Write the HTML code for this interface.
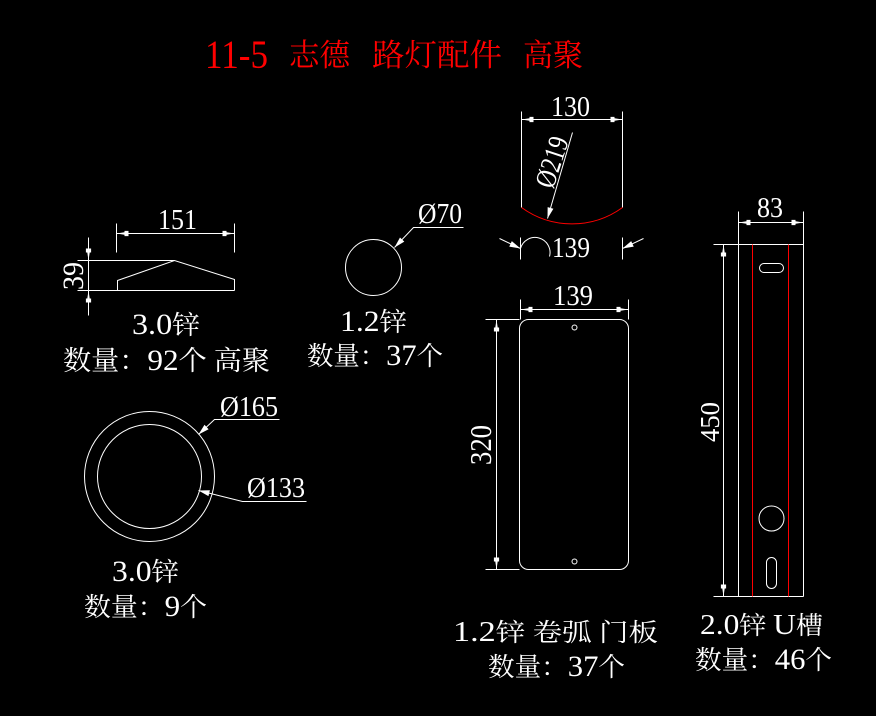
<!DOCTYPE html>
<html>
<head>
<meta charset="utf-8">
<style>
  html, body { margin:0; padding:0; background:#000; }
  svg { display:block; }
  text { font-family: "Liberation Serif", "Noto Serif CJK SC", serif; fill:#fff; }
  .t { fill:#ff0000; }
</style>
</head>
<body>
<svg width="876" height="716" viewBox="0 0 876 716" xmlns="http://www.w3.org/2000/svg">
  <rect x="0" y="0" width="876" height="716" fill="#000"/>
  <defs>
    <polygon id="ar" points="0,0 8,-1.2 8,-2.6 12,-2.6 12,2.6 8,2.6 8,1.2" fill="#fff"/>
    <polygon id="ld" points="0,0 11,-3 11,3" fill="#fff"/>
  </defs>

  <!-- Title -->
  <text class="t" x="205" y="68" font-size="40" textLength="63" lengthAdjust="spacingAndGlyphs">11-5</text>
  <text class="t" x="289" y="66" font-size="31" textLength="61" lengthAdjust="spacingAndGlyphs">志德</text>
  <text class="t" x="372" y="66" font-size="31" textLength="130" lengthAdjust="spacingAndGlyphs">路灯配件</text>
  <text class="t" x="523" y="66" font-size="31" textLength="60" lengthAdjust="spacingAndGlyphs">高聚</text>

  <g transform="translate(0.5,0.5)" stroke="#fff" stroke-width="1" fill="none">
    <!-- Part 1: triangle piece -->
    <line x1="116" y1="223" x2="116" y2="252"/>
    <line x1="234" y1="223" x2="234" y2="252"/>
    <line x1="116" y1="233" x2="234" y2="233"/>
    <line x1="77" y1="260" x2="174" y2="260"/>
    <line x1="77" y1="290" x2="234" y2="290"/>
    <polyline points="117,290 117,280 174,260 234,279 234,290"/>
    <line x1="88" y1="237" x2="88" y2="315"/>

    <!-- Part 2: small circle -->
    <circle cx="373" cy="267" r="28"/>
    <polyline points="394,247 413,227 463,227"/>

    <!-- Part 3: arc piece -->
    <line x1="521" y1="111" x2="521" y2="207"/>
    <line x1="622" y1="111" x2="622" y2="207"/>
    <line x1="521" y1="119" x2="622" y2="119"/>
    <path d="M521,207 A86,86 0 0 0 622,207" stroke="#ff0000"/>
    <line x1="572" y1="132" x2="547" y2="218"/>
    <line x1="520" y1="237" x2="520" y2="259"/>
    <line x1="622" y1="237" x2="622" y2="259"/>
    <line x1="499" y1="238" x2="520" y2="248"/>
    <line x1="643" y1="238" x2="622" y2="248"/>
    <path d="M520,248 A15,15 0 0 1 549,256"/>

    <!-- Part 4: door panel -->
    <line x1="520" y1="299" x2="520" y2="319"/>
    <line x1="628" y1="299" x2="628" y2="319"/>
    <line x1="520" y1="309" x2="628" y2="309"/>
    <rect x="519" y="319" width="109" height="250" rx="9" ry="9"/>
    <circle cx="574" cy="327" r="2.5"/>
    <circle cx="574" cy="561" r="2.5"/>
    <line x1="485" y1="319" x2="519" y2="319"/>
    <line x1="485" y1="569" x2="519" y2="569"/>
    <line x1="496" y1="319" x2="496" y2="569"/>

    <!-- Part 5: U channel -->
    <line x1="713" y1="244" x2="803" y2="244"/>
    <line x1="713" y1="596" x2="803" y2="596"/>
    <line x1="738" y1="211" x2="738" y2="596"/>
    <line x1="803" y1="211" x2="803" y2="596"/>
    <line x1="738" y1="222" x2="803" y2="222"/>
    <line x1="752" y1="244" x2="752" y2="596" stroke="#ff0000"/>
    <line x1="788" y1="244" x2="788" y2="596" stroke="#ff0000"/>
    <line x1="723" y1="244" x2="723" y2="596"/>
    <rect x="759" y="263" width="24" height="9" rx="4.5" ry="4.5"/>
    <circle cx="771" cy="518" r="12.5"/>
    <rect x="766" y="557" width="10" height="31" rx="5" ry="5"/>

    <!-- Part 6: ring -->
    <circle cx="149" cy="476" r="65"/>
    <circle cx="149" cy="476" r="52"/>
    <polyline points="198,434 214,419 279,419"/>
    <polyline points="198,490 242,501 306,501"/>
  </g>

  <!-- Arrowheads -->
  <g transform="translate(0.5,0.5)">
    <use href="#ar" transform="translate(116,233)"/>
    <use href="#ar" transform="translate(234,233) rotate(180)"/>
    <use href="#ar" transform="translate(88,260) rotate(-90)"/>
    <use href="#ar" transform="translate(88,290) rotate(90)"/>
    <use href="#ld" transform="translate(394,247) rotate(-46)"/>
    <use href="#ar" transform="translate(521,119)"/>
    <use href="#ar" transform="translate(622,119) rotate(180)"/>
    <use href="#ld" transform="translate(547,218) rotate(-74)"/>
    <use href="#ld" transform="translate(520,248) rotate(205)"/>
    <use href="#ld" transform="translate(622,248) rotate(-25)"/>
    <use href="#ar" transform="translate(520,309)"/>
    <use href="#ar" transform="translate(628,309) rotate(180)"/>
    <use href="#ar" transform="translate(496,319) rotate(90)"/>
    <use href="#ar" transform="translate(496,569) rotate(-90)"/>
    <use href="#ar" transform="translate(738,222)"/>
    <use href="#ar" transform="translate(803,222) rotate(180)"/>
    <use href="#ar" transform="translate(723,244) rotate(90)"/>
    <use href="#ar" transform="translate(723,596) rotate(-90)"/>
    <use href="#ld" transform="translate(198,434) rotate(-43)"/>
    <use href="#ld" transform="translate(198,490) rotate(14)"/>
  </g>

  <!-- Dimension texts -->
  <text x="158" y="229" font-size="29" textLength="39" lengthAdjust="spacingAndGlyphs">151</text>
  <text transform="translate(83,276) rotate(-90)" text-anchor="middle" font-size="30" textLength="28" lengthAdjust="spacingAndGlyphs">39</text>
  <text x="418" y="223" font-size="28" textLength="44" lengthAdjust="spacingAndGlyphs">Ø70</text>
  <text x="551" y="116" font-size="28" textLength="39" lengthAdjust="spacingAndGlyphs">130</text>
  <text transform="translate(561,165) rotate(-72)" text-anchor="middle" font-size="29" textLength="52" lengthAdjust="spacingAndGlyphs">Ø219</text>
  <text x="552" y="257" font-size="29" textLength="38" lengthAdjust="spacingAndGlyphs">139</text>
  <text x="553" y="305" font-size="29" textLength="40" lengthAdjust="spacingAndGlyphs">139</text>
  <text transform="translate(491,445) rotate(-90)" text-anchor="middle" font-size="31" textLength="40" lengthAdjust="spacingAndGlyphs">320</text>
  <text x="757" y="217" font-size="29" textLength="26" lengthAdjust="spacingAndGlyphs">83</text>
  <text transform="translate(719,422) rotate(-90)" text-anchor="middle" font-size="27" textLength="40" lengthAdjust="spacingAndGlyphs">450</text>
  <text x="220" y="416" font-size="28" textLength="58" lengthAdjust="spacingAndGlyphs">Ø165</text>
  <text x="247" y="497" font-size="28" textLength="58" lengthAdjust="spacingAndGlyphs">Ø133</text>

  <!-- Labels -->
  <text x="132" y="334" font-size="26" textLength="68" lengthAdjust="spacingAndGlyphs"><tspan font-size="30">3.0</tspan>锌</text>
  <text x="63" y="370" font-size="27" textLength="207" lengthAdjust="spacingAndGlyphs">数量：<tspan font-size="30">92</tspan>个 高聚</text>

  <text x="340" y="331" font-size="26" textLength="67" lengthAdjust="spacingAndGlyphs"><tspan font-size="30">1.2</tspan>锌</text>
  <text x="307" y="365" font-size="26" textLength="136" lengthAdjust="spacingAndGlyphs">数量：<tspan font-size="30">37</tspan>个</text>

  <text x="112" y="581" font-size="26" textLength="67" lengthAdjust="spacingAndGlyphs"><tspan font-size="30">3.0</tspan>锌</text>
  <text x="84" y="616" font-size="26" textLength="123" lengthAdjust="spacingAndGlyphs">数量：<tspan font-size="30">9</tspan>个</text>

  <text x="453" y="641" font-size="25" textLength="205" lengthAdjust="spacingAndGlyphs"><tspan font-size="29">1.2</tspan>锌 卷弧 门板</text>
  <text x="488" y="676" font-size="26" textLength="137" lengthAdjust="spacingAndGlyphs">数量：<tspan font-size="30">37</tspan>个</text>

  <text x="700" y="634" font-size="25" textLength="123" lengthAdjust="spacingAndGlyphs"><tspan font-size="29">2.0</tspan>锌 <tspan font-size="29">U</tspan>槽</text>
  <text x="695" y="669" font-size="26" textLength="137" lengthAdjust="spacingAndGlyphs">数量：<tspan font-size="30">46</tspan>个</text>
</svg>
</body>
</html>
